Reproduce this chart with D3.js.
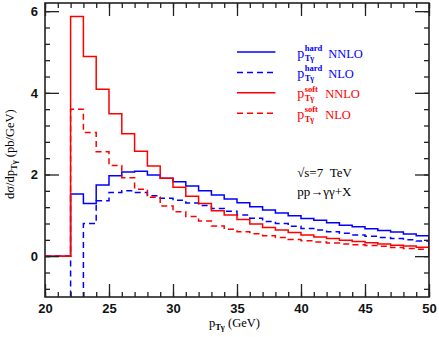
<!DOCTYPE html>
<html>
<head>
<meta charset="utf-8">
<script src="https://cdn.jsdelivr.net/npm/d3@7"></script>
<style>
  body { margin: 0; background: #fff; }
  .tick text { font-family: "Liberation Sans", Arial, sans-serif; font-weight: bold; font-size: 13px; fill: #111; }
  .lbl { font-family: "Liberation Serif", "Times New Roman", serif; }
</style>
</head>
<body>
<div id="chart"></div>
<script>
// bins of 1 GeV, lower edges 20..49
var binEdges = d3.range(20, 51);   // 20 .. 50

// d sigma / d pT (pb/GeV), one value per bin 20-21 ... 49-50
var hardNNLO = [0, 0, 1.52, 1.29, 1.74, 1.97, 2.06, 2.08, 1.99, 1.91, 1.82, 1.72, 1.60, 1.50, 1.40,
                1.31, 1.21, 1.13, 1.06, 0.99, 0.92, 0.88, 0.82, 0.76, 0.72, 0.67, 0.63, 0.59, 0.54, 0.50];
var hardNLO  = [0, 0, -2.0, 0.80, 1.36, 1.56, 1.60, 1.56, 1.48, 1.42, 1.37, 1.30, 1.24, 1.17, 1.10,
                1.01, 0.93, 0.85, 0.80, 0.73, 0.68, 0.64, 0.60, 0.56, 0.52, 0.49, 0.46, 0.43, 0.40, 0.37];
var softNNLO = [0, 0, 5.87, 4.89, 4.09, 3.49, 3.00, 2.57, 2.21, 1.91, 1.69, 1.47, 1.29, 1.11, 1.01,
                0.90, 0.79, 0.70, 0.64, 0.58, 0.52, 0.47, 0.43, 0.39, 0.36, 0.33, 0.30, 0.27, 0.25, 0.22];
var softNLO  = [0, 0, 3.60, 3.03, 2.56, 2.22, 1.92, 1.64, 1.44, 1.23, 1.09, 0.97, 0.86, 0.74, 0.66,
                0.60, 0.55, 0.50, 0.46, 0.41, 0.38, 0.35, 0.32, 0.30, 0.28, 0.26, 0.24, 0.21, 0.19, 0.17];

var xMajor = [20, 25, 30, 35, 40, 45, 50];
var yMajor = [0, 2, 4, 6];

// legend entries, drawn in this order
var series = [
  {name: "hard", order: "NNLO", values: hardNNLO, color: "#0000ff", dash: null},
  {name: "hard", order: "NLO",  values: hardNLO,  color: "#0000ff", dash: "6,4"},
  {name: "soft", order: "NNLO", values: softNNLO, color: "#ff0000", dash: null},
  {name: "soft", order: "NLO",  values: softNLO,  color: "#ff0000", dash: "6,4"}
];

var margin = {top: 3, right: 10, bottom: 40, left: 45},
    width = 439 - margin.left - margin.right,
    height = 337 - margin.top - margin.bottom;

var svg = d3.select("#chart")
  .append("svg")
    .attr("width", width + margin.left + margin.right)
    .attr("height", height + margin.top + margin.bottom)
  .append("g")
    .attr("transform", "translate(" + margin.left + "," + margin.top + ")");

var x = d3.scaleLinear().domain([20, 50]).range([0, width]);
var y = d3.scaleLinear().domain([-1, 6.2]).range([height, 0]);

svg.append("clipPath").attr("id", "clip")
  .append("rect").attr("width", width).attr("height", height);

// turn the bin values into a step outline
function steps(vals) {
  var pts = [[binEdges[0], 0]];
  vals.forEach(function(v, i) {
    pts.push([binEdges[i], v]);
    pts.push([binEdges[i + 1], v]);
  });
  pts.push([binEdges[binEdges.length - 1], 0]);
  return pts;
}

var line = d3.line()
  .x(function(d) { return x(d[0]); })
  .y(function(d) { return y(d[1]); });

// draw order: blue solid, blue dashed, red dashed, red solid
[0, 1, 3, 2].forEach(function(k) {
  var s = series[k];
  svg.append("path")
    .datum(steps(s.values))
    .attr("clip-path", "url(#clip)")
    .attr("d", line)
    .attr("fill", "none")
    .attr("stroke", s.color)
    .attr("stroke-width", 1.5)
    .attr("stroke-dasharray", s.dash);
});

// ticks on all four sides, pointing inwards
var minorX = d3.range(20, 51);
var minorY = d3.range(-0.8, 6.2, 0.4);

function tickStyle(g) {
  g.select(".domain").remove();
  g.selectAll(".tick line").attr("stroke", "#222").attr("stroke-width", 1.3);
}

svg.append("g").attr("transform", "translate(0," + height + ")")
  .call(d3.axisBottom(x).tickValues(minorX).tickSize(-5).tickFormat("")).call(tickStyle);
svg.append("g").attr("transform", "translate(0," + height + ")")
  .call(d3.axisBottom(x).tickValues(xMajor).tickSize(-13).tickPadding(7).tickFormat(d3.format("d"))).call(tickStyle);
svg.append("g")
  .call(d3.axisTop(x).tickValues(minorX).tickSize(-5).tickFormat("")).call(tickStyle);
svg.append("g")
  .call(d3.axisTop(x).tickValues(xMajor).tickSize(-13).tickFormat("")).call(tickStyle);

svg.append("g")
  .call(d3.axisLeft(y).tickValues(minorY).tickSize(-5).tickFormat("")).call(tickStyle);
svg.append("g")
  .call(d3.axisLeft(y).tickValues(yMajor).tickSize(-14).tickPadding(7).tickFormat(d3.format("d"))).call(tickStyle);
svg.append("g").attr("transform", "translate(" + width + ",0)")
  .call(d3.axisRight(y).tickValues(minorY).tickSize(-5).tickFormat("")).call(tickStyle);
svg.append("g").attr("transform", "translate(" + width + ",0)")
  .call(d3.axisRight(y).tickValues(yMajor).tickSize(-14).tickFormat("")).call(tickStyle);

// frame
svg.append("rect")
  .attr("width", width).attr("height", height)
  .attr("fill", "none").attr("stroke", "#222").attr("stroke-width", 1.6);

// y axis title
var yt = svg.append("text")
  .attr("class", "lbl")
  .attr("transform", "translate(-31," + (y(2.5)) + ") rotate(-90)")
  .attr("text-anchor", "middle")
  .style("font-size", "12.5px");
yt.append("tspan").text("dσ/dp");
yt.append("tspan").attr("dy", 3).style("font-size", "8.5px").style("font-weight", "bold").text("Tγ");
yt.append("tspan").attr("dy", -3).text(" (pb/GeV)");

// x axis title
var xt = svg.append("text")
  .attr("class", "lbl")
  .attr("x", x(34.8)).attr("y", height + 30)
  .attr("text-anchor", "middle")
  .style("font-size", "12.5px");
xt.append("tspan").text("p");
xt.append("tspan").attr("dy", 3).style("font-size", "8.5px").style("font-weight", "bold").text("Tγ");
xt.append("tspan").attr("dy", -3).text(" (GeV)");

// legend
var lx0 = x(35.0), lx1 = x(38.0), tx = x(39.7);
series.forEach(function(s, i) {
  var ly = y(5.0 - i * 0.5);
  svg.append("line")
    .attr("x1", lx0).attr("x2", lx1).attr("y1", ly).attr("y2", ly)
    .attr("stroke", s.color).attr("stroke-width", 1.5)
    .attr("stroke-dasharray", s.dash);
  var g = svg.append("g").attr("class", "lbl").attr("fill", s.color);
  g.append("text").attr("x", tx).attr("y", ly + 5.5).style("font-size", "14px").text("p");
  g.append("text").attr("x", tx + 7.5).attr("y", ly - 1).style("font-size", "8.5px").style("font-weight", "bold").text(s.name);
  g.append("text").attr("x", tx + 7.5).attr("y", ly + 8.5).style("font-size", "8.5px").style("font-weight", "bold").text("Tγ");
  g.append("text").attr("x", tx + (s.name === "hard" ? 31 : 28)).attr("y", ly + 5.5)
    .style("font-size", "12.5px").text(s.order);
});

// process annotation
svg.append("text").attr("class", "lbl")
  .attr("x", x(39.7)).attr("y", y(1.94))
  .style("font-size", "13px").text("√s=7\u00a0\u00a0TeV");
svg.append("text").attr("class", "lbl")
  .attr("x", x(39.7)).attr("y", y(1.48))
  .style("font-size", "13px").text("pp→γγ+X");
</script>
</body>
</html>
